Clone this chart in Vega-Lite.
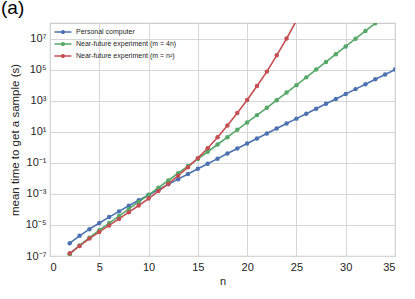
{
  "$schema": "https://vega.github.io/schema/vega-lite/v6.json",
  "width": 345,
  "height": 233,
  "autosize": {"type": "none"},
  "padding": {"left": 50, "top": 23, "right": 20, "bottom": 43},
  "background": "white",
  "title": {"text": "(a)", "anchor": "start", "frame": "group", "dx": -49, "dy": 16.5, "offset": 7, "fontSize": 19, "fontWeight": "normal", "font": "Liberation Sans", "color": "#000000", "baseline": "alphabetic"},
  "config": {
    "font": "Liberation Sans",
    "view": {"stroke": "#cccccc", "strokeWidth": 1.2},
    "axis": {"ticks": false, "domain": false, "grid": true, "gridColor": "#d6d6d6", "gridWidth": 1, "labelFont": "Liberation Sans", "titleFont": "Liberation Sans", "labelColor": "#262626", "titleColor": "#262626", "titleFontWeight": "normal"}
  },
  "data": {
    "values": [
      {"n": 2, "t": 6.65e-7, "s": "Personal computer"},
      {"n": 3, "t": 2.0e-6, "s": "Personal computer"},
      {"n": 4, "t": 5.32e-6, "s": "Personal computer"},
      {"n": 5, "t": 1.33e-5, "s": "Personal computer"},
      {"n": 6, "t": 3.19e-5, "s": "Personal computer"},
      {"n": 7, "t": 7.45e-5, "s": "Personal computer"},
      {"n": 8, "t": 1.70e-4, "s": "Personal computer"},
      {"n": 9, "t": 3.84e-4, "s": "Personal computer"},
      {"n": 10, "t": 8.51e-4, "s": "Personal computer"},
      {"n": 11, "t": 1.875e-3, "s": "Personal computer"},
      {"n": 12, "t": 4.09e-3, "s": "Personal computer"},
      {"n": 13, "t": 8.85e-3, "s": "Personal computer"},
      {"n": 14, "t": 1.905e-2, "s": "Personal computer"},
      {"n": 15, "t": 4.09e-2, "s": "Personal computer"},
      {"n": 16, "t": 8.71e-2, "s": "Personal computer"},
      {"n": 17, "t": 0.185, "s": "Personal computer"},
      {"n": 18, "t": 0.393, "s": "Personal computer"},
      {"n": 19, "t": 0.828, "s": "Personal computer"},
      {"n": 20, "t": 1.746, "s": "Personal computer"},
      {"n": 21, "t": 3.66, "s": "Personal computer"},
      {"n": 22, "t": 7.67, "s": "Personal computer"},
      {"n": 23, "t": 16.07, "s": "Personal computer"},
      {"n": 24, "t": 33.5, "s": "Personal computer"},
      {"n": 25, "t": 69.8, "s": "Personal computer"},
      {"n": 26, "t": 145.2, "s": "Personal computer"},
      {"n": 27, "t": 301, "s": "Personal computer"},
      {"n": 28, "t": 625, "s": "Personal computer"},
      {"n": 29, "t": 1294, "s": "Personal computer"},
      {"n": 30, "t": 2679, "s": "Personal computer"},
      {"n": 31, "t": 5534, "s": "Personal computer"},
      {"n": 32, "t": 11430, "s": "Personal computer"},
      {"n": 33, "t": 23600, "s": "Personal computer"},
      {"n": 34, "t": 48530, "s": "Personal computer"},
      {"n": 35, "t": 100000, "s": "Personal computer"},
      {"n": 2, "t": 1.32e-7, "s": "Near-future experiment (m = 4n)"},
      {"n": 3, "t": 4.79e-7, "s": "Near-future experiment (m = 4n)"},
      {"n": 4, "t": 1.51e-6, "s": "Near-future experiment (m = 4n)"},
      {"n": 5, "t": 4.57e-6, "s": "Near-future experiment (m = 4n)"},
      {"n": 6, "t": 1.32e-5, "s": "Near-future experiment (m = 4n)"},
      {"n": 7, "t": 3.72e-5, "s": "Near-future experiment (m = 4n)"},
      {"n": 8, "t": 1.07e-4, "s": "Near-future experiment (m = 4n)"},
      {"n": 9, "t": 3.02e-4, "s": "Near-future experiment (m = 4n)"},
      {"n": 10, "t": 8.71e-4, "s": "Near-future experiment (m = 4n)"},
      {"n": 11, "t": 2.51e-3, "s": "Near-future experiment (m = 4n)"},
      {"n": 12, "t": 7.24e-3, "s": "Near-future experiment (m = 4n)"},
      {"n": 13, "t": 2.14e-2, "s": "Near-future experiment (m = 4n)"},
      {"n": 14, "t": 6.17e-2, "s": "Near-future experiment (m = 4n)"},
      {"n": 15, "t": 0.178, "s": "Near-future experiment (m = 4n)"},
      {"n": 16, "t": 0.513, "s": "Near-future experiment (m = 4n)"},
      {"n": 17, "t": 1.51, "s": "Near-future experiment (m = 4n)"},
      {"n": 18, "t": 4.47, "s": "Near-future experiment (m = 4n)"},
      {"n": 19, "t": 13.2, "s": "Near-future experiment (m = 4n)"},
      {"n": 20, "t": 39.8, "s": "Near-future experiment (m = 4n)"},
      {"n": 21, "t": 117.5, "s": "Near-future experiment (m = 4n)"},
      {"n": 22, "t": 347, "s": "Near-future experiment (m = 4n)"},
      {"n": 23, "t": 1072, "s": "Near-future experiment (m = 4n)"},
      {"n": 24, "t": 3311, "s": "Near-future experiment (m = 4n)"},
      {"n": 25, "t": 10000, "s": "Near-future experiment (m = 4n)"},
      {"n": 26, "t": 31620, "s": "Near-future experiment (m = 4n)"},
      {"n": 27, "t": 100000, "s": "Near-future experiment (m = 4n)"},
      {"n": 28, "t": 309000, "s": "Near-future experiment (m = 4n)"},
      {"n": 29, "t": 977000, "s": "Near-future experiment (m = 4n)"},
      {"n": 30, "t": 3090000, "s": "Near-future experiment (m = 4n)"},
      {"n": 31, "t": 9770000, "s": "Near-future experiment (m = 4n)"},
      {"n": 32, "t": 30900000, "s": "Near-future experiment (m = 4n)"},
      {"n": 33, "t": 95500000, "s": "Near-future experiment (m = 4n)"},
      {"n": 34, "t": 295000000, "s": "Near-future experiment (m = 4n)"},
      {"n": 2, "t": 1.48e-7, "s": "Near-future experiment (m = n²)"},
      {"n": 3, "t": 4.47e-7, "s": "Near-future experiment (m = n²)"},
      {"n": 4, "t": 1.32e-6, "s": "Near-future experiment (m = n²)"},
      {"n": 5, "t": 3.55e-6, "s": "Near-future experiment (m = n²)"},
      {"n": 6, "t": 9.33e-6, "s": "Near-future experiment (m = n²)"},
      {"n": 7, "t": 2.45e-5, "s": "Near-future experiment (m = n²)"},
      {"n": 8, "t": 6.61e-5, "s": "Near-future experiment (m = n²)"},
      {"n": 9, "t": 1.78e-4, "s": "Near-future experiment (m = n²)"},
      {"n": 10, "t": 5.01e-4, "s": "Near-future experiment (m = n²)"},
      {"n": 11, "t": 1.51e-3, "s": "Near-future experiment (m = n²)"},
      {"n": 12, "t": 4.47e-3, "s": "Near-future experiment (m = n²)"},
      {"n": 13, "t": 1.48e-2, "s": "Near-future experiment (m = n²)"},
      {"n": 14, "t": 5.25e-2, "s": "Near-future experiment (m = n²)"},
      {"n": 15, "t": 0.2, "s": "Near-future experiment (m = n²)"},
      {"n": 16, "t": 0.871, "s": "Near-future experiment (m = n²)"},
      {"n": 17, "t": 4.47, "s": "Near-future experiment (m = n²)"},
      {"n": 18, "t": 25.1, "s": "Near-future experiment (m = n²)"},
      {"n": 19, "t": 162, "s": "Near-future experiment (m = n²)"},
      {"n": 20, "t": 1096, "s": "Near-future experiment (m = n²)"},
      {"n": 21, "t": 8710, "s": "Near-future experiment (m = n²)"},
      {"n": 22, "t": 74130, "s": "Near-future experiment (m = n²)"},
      {"n": 23, "t": 831800, "s": "Near-future experiment (m = n²)"},
      {"n": 24, "t": 10000000, "s": "Near-future experiment (m = n²)"},
      {"n": 25, "t": 141000000, "s": "Near-future experiment (m = n²)"}
    ]
  },
  "encoding": {
    "x": {
      "field": "n", "type": "quantitative",
      "scale": {"domain": [0, 35], "nice": false, "zero": false},
      "axis": {"values": [0, 5, 10, 15, 20, 25, 30, 35], "title": "n", "labelFontSize": 11, "titleFontSize": 11, "labelPadding": 5, "titlePadding": 3}
    },
    "y": {
      "field": "t", "type": "quantitative",
      "scale": {"type": "log", "domain": [1e-7, 1e8], "nice": false},
      "axis": {
        "values": [1e-7, 1e-5, 1e-3, 1e-1, 10, 1000, 100000, 10000000],
        "labelExpr": "datum.value < 5e-7 ? '10⁻⁷' : datum.value < 5e-5 ? '10⁻⁵' : datum.value < 5e-3 ? '10⁻³' : datum.value < 0.5 ? '10⁻¹' : datum.value < 50 ? '10¹' : datum.value < 5000 ? '10³' : datum.value < 500000 ? '10⁵' : '10⁷'",
        "title": "mean time to get a sample (s)",
        "labelFontSize": 11, "titleFontSize": 11.5, "labelPadding": 4, "titlePadding": 5
      }
    },
    "color": {
      "field": "s", "type": "nominal",
      "scale": {
        "domain": ["Personal computer", "Near-future experiment (m = 4n)", "Near-future experiment (m = n²)"],
        "range": ["#4C72B0", "#55A868", "#C44E52"]
      },
      "legend": {
        "title": null, "orient": "none", "legendX": 9.5, "legendY": 5.5, "padding": 0,
        "labelFontSize": 7, "labelFont": "Liberation Sans", "labelColor": "#262626",
        "symbolType": "M-2.43,-0.21H2.43V0.21H-2.43ZM0.6,0A0.6,0.6,0,1,1,-0.6,0A0.6,0.6,0,1,1,0.6,0Z",
        "symbolSize": 49, "symbolStrokeWidth": 0, "labelOffset": 9.5, "rowPadding": 4,
        "encode": {"symbols": {"update": {"fill": {"scale": "color", "field": "value"}, "opacity": {"value": 1}}}}
      }
    }
  },
  "layer": [
    {"mark": {"type": "line", "strokeWidth": 1.6, "clip": true}},
    {"mark": {"type": "point", "filled": true, "size": 20, "opacity": 1, "clip": true}}
  ]
}
